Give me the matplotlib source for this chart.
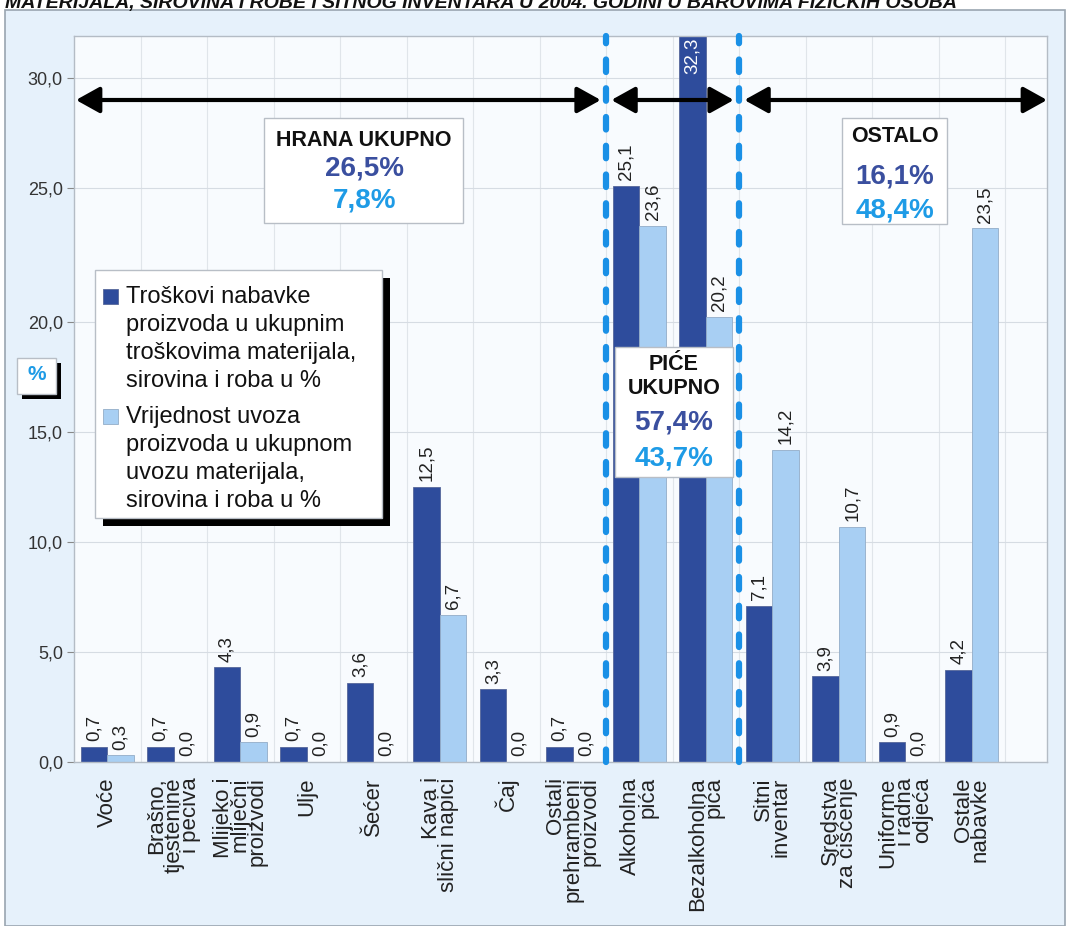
import matplotlib
matplotlib.use("Agg")
import matplotlib.pyplot as plt
import numpy as np
from matplotlib.patches import Rectangle
from matplotlib.ticker import FixedLocator, FuncFormatter

plt.rcParams["font.family"] = ["Liberation Sans", "DejaVu Sans"]

TITLE = "MATERIJALA, SIROVINA I ROBE I SITNOG INVENTARA U 2004. GODINI U BAROVIMA FIZIČKIH OSOBA"

CATEGORIES = [
    "Voće", "Brašno,\ntjestenine\ni peciva", "Mlijeko i\nmliječni\nproizvodi", "Ulje", "Šećer",
    "Kava i\nslični napici", "Čaj", "Ostali\nprehrambeni\nproizvodi", "Alkoholna\npića",
    "Bezalkoholna\npića", "Sitni\ninventar", "Sredstva\nza čišćenje", "Uniforme\ni radna\nodjeća",
    "Ostale\nnabavke",
]
TROSKOVI = [0.7, 0.7, 4.3, 0.7, 3.6, 12.5, 3.3, 0.7, 25.1, 32.3, 7.1, 3.9, 0.9, 4.2]
UVOZ = [0.3, 0.0, 0.9, 0.0, 0.0, 6.7, 0.0, 0.0, 23.6, 20.2, 14.2, 10.7, 0.0, 23.5]

LEGEND_TROSKOVI = ["Troškovi nabavke", "proizvoda u ukupnim", "troškovima materijala,", "sirovina i roba u %"]
LEGEND_UVOZ = ["Vrijednost uvoza", "proizvoda u ukupnom", "uvozu materijala,", "sirovina i roba u %"]

GROUP_NAMES = [["HRANA UKUPNO"], ["PIĆE", "UKUPNO"], ["OSTALO"]]
GROUP_TROSKOVI = ["26,5%", "57,4%", "16,1%"]
GROUP_UVOZ = ["7,8%", "43,7%", "48,4%"]
GROUP_BOUNDS = [7.5, 9.5]   # dashed separators between groups

W, H = 1069, 926
DARK = "#2e4c9c"
LIGHT = "#a8cff3"
PCT_DARK = "#3a4f9f"
PCT_LIGHT = "#1e9be6"
DASH_BLUE = "#1a90e6"


def fx(px):
    return px / W


def fy(py):
    return 1 - py / H


def fmt(v):
    return f"{v:.1f}".replace(".", ",")


# the original's value axis is stretched between 20 and 25
Y_KNOTS = [-100, 0, 20, 25, 100]
P_KNOTS = [-2200, 0, 440, 574, 574 + 75 * 22]


def fwd(v):
    return np.interp(v, Y_KNOTS, P_KNOTS)


def inv(p):
    return np.interp(p, P_KNOTS, Y_KNOTS)


fig = plt.figure(figsize=(W / 100, H / 100), dpi=100)
fig.patches.append(Rectangle((fx(5), 0), fx(1060), fy(10), transform=fig.transFigure,
                             facecolor="#e6f1fb", edgecolor="#9aa5b0", lw=1.2, zorder=-10))
# title line is cut by the top edge in the original
fig.text(fx(5), fy(8), TITLE, fontsize=14, weight="bold", style="italic",
         ha="left", va="baseline", color="#111")

ax = fig.add_axes([fx(74), fy(762), fx(1047 - 74), (762 - 36) / H])
ax.set_facecolor("#f8fbfe")
ax.set_yscale("function", functions=(fwd, inv))
ymax = float(inv(726))
ax.set_ylim(0, ymax)
ax.set_xlim(-0.5, 14.13)

x = np.arange(len(CATEGORIES))
bw = 0.4
ax.bar(x - bw / 2, TROSKOVI, bw, color=DARK, edgecolor="#56679a", lw=0.6, zorder=2)
ax.bar(x + bw / 2, UVOZ, bw, color=LIGHT, edgecolor="#93adc8", lw=0.6, zorder=2)

for xs, vals in ((x - bw / 2, TROSKOVI), (x + bw / 2, UVOZ)):
    for xi, v in zip(xs, vals):
        if v > ymax:
            ax.annotate(fmt(v), (xi, ymax), xytext=(0, -1), textcoords="offset points",
                        rotation=90, ha="center", va="top", fontsize=13.5, color="white", zorder=3)
        else:
            ax.annotate(fmt(v), (xi, v), xytext=(0, 4), textcoords="offset points",
                        rotation=90, ha="center", va="bottom", fontsize=13.5, color="#222", zorder=3)

# axes, grid, ticks
ax.yaxis.set_major_locator(FixedLocator(np.arange(0, 31, 5)))
ax.yaxis.set_major_formatter(FuncFormatter(lambda v, _: fmt(v)))
ax.set_xticks(x)
ax.set_xticks(np.arange(0.5, 14, 1), minor=True)
ax.set_xticklabels(CATEGORIES, rotation=90, ha="center", va="top", multialignment="right",
                   linespacing=0.76, fontsize=16, color="#222")
ax.tick_params(axis="x", which="both", length=0, pad=11)
ax.tick_params(axis="y", length=5, color="#888", labelsize=13, labelcolor="#333", pad=3)
ax.grid(axis="y", color="#d6dce3", lw=0.8, zorder=0)
ax.grid(axis="x", which="minor", color="#e0e5ea", lw=0.8, zorder=0)
ax.set_axisbelow(True)
for s in ax.spines.values():
    s.set_color("#b4bcc5")
    s.set_linewidth(1.0)

# group separators and span arrows
for xb in GROUP_BOUNDS:
    ax.axvline(xb, color=DASH_BLUE, lw=4.5, ls=(0, (2.0, 2.6)), dash_capstyle="round",
               zorder=4, clip_on=False)

arrow_spans = [(-0.47, 7.42), (7.58, 9.42), (9.58, 14.13)]
for x0, x1 in arrow_spans:
    ax.annotate("", xy=(x1, 29), xytext=(x0, 29),
                arrowprops=dict(arrowstyle="<|-|>,head_length=0.9,head_width=0.5",
                                color="black", lw=3, mutation_scale=16, shrinkA=0, shrinkB=0),
                zorder=5, annotation_clip=False)


def box(x0, y0, x1, y1, shadow=0):
    if shadow:
        fig.patches.append(Rectangle((fx(x0 + shadow), fy(y1 + shadow)), fx(x1 - x0), (y1 - y0) / H,
                                     transform=fig.transFigure, facecolor="black", lw=0, zorder=5))
    fig.patches.append(Rectangle((fx(x0), fy(y1)), fx(x1 - x0), (y1 - y0) / H,
                                 transform=fig.transFigure, facecolor="white",
                                 edgecolor="#b8bec6", lw=1, zorder=6))


def txt(px, py, s, **kw):
    fig.text(fx(px), fy(py), s, ha="center", va="center", zorder=7, **kw)


# group total boxes
box_specs = [
    dict(rect=(264, 118, 463, 223), cx=364, name_y=[140], pct_y=(168, 200)),
    dict(rect=(615, 347, 733, 477), cx=674, name_y=[365, 389], pct_y=(423, 458)),
    dict(rect=(842, 118, 947, 224), cx=895, name_y=[137], pct_y=(177, 210)),
]
for spec, names, pt, pu in zip(box_specs, GROUP_NAMES, GROUP_TROSKOVI, GROUP_UVOZ):
    box(*spec["rect"])
    for ny, name in zip(spec["name_y"], names):
        txt(spec["cx"], ny, name, fontsize=15.5, weight="bold", color="#111")
    txt(spec["cx"], spec["pct_y"][0], pt, fontsize=20, weight="bold", color=PCT_DARK)
    txt(spec["cx"], spec["pct_y"][1], pu, fontsize=20, weight="bold", color=PCT_LIGHT)

# legend
box(95, 270, 382, 518, shadow=8)
for sq_y, lines, y_first, color, edge in ((289, LEGEND_TROSKOVI, 297, DARK, "#56679a"),
                                          (409, LEGEND_UVOZ, 417, LIGHT, "#93adc8")):
    fig.patches.append(Rectangle((fx(103), fy(sq_y + 15)), fx(15), 15 / H, transform=fig.transFigure,
                                 facecolor=color, edgecolor=edge, lw=0.6, zorder=7))
    for i, line in enumerate(lines):
        fig.text(fx(126), fy(y_first + 28 * i), line, ha="left", va="center",
                 fontsize=17, color="#111", zorder=7)

# "%" axis unit box
box(17, 358, 56, 394, shadow=5)
txt(37, 375, "%", fontsize=15, weight="bold", color=PCT_LIGHT)

fig.savefig("out.png", dpi=100, facecolor="white")
